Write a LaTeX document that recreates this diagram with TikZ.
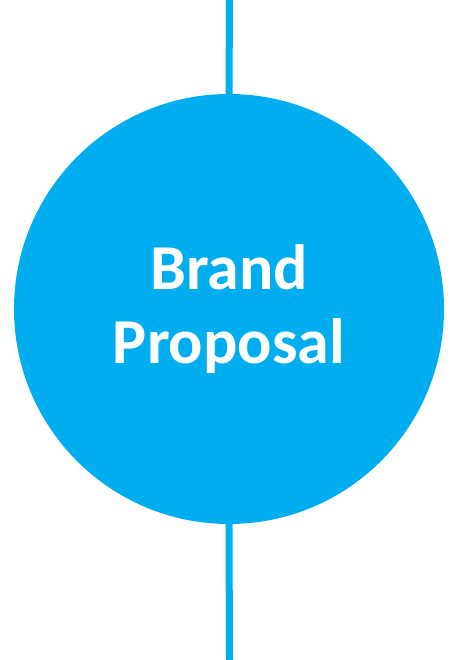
\documentclass[tikz,border=0pt]{standalone}
\usepackage{fontspec}
\setmainfont{Carlito}
\definecolor{brandblue}{HTML}{00AEEF}
\begin{document}
\begin{tikzpicture}[x=1pt,y=1pt,
  stem/.style={draw=brandblue,line width=7pt},
  bubble/.style={circle,fill=brandblue,minimum size=430pt,inner sep=0pt,
    text=white,font=\bfseries\fontsize{64}{74}\selectfont,align=center}]
\useasboundingbox (0,0) rectangle (458,660);
\coordinate (top) at (229.5,660);
\coordinate (bot) at (229.5,0);
\node[bubble] (c) at (229,351) {Brand\\Proposal};
\draw[stem] (top) -- (c.north);
\draw[stem] (c.south) -- (bot);
\end{tikzpicture}
\end{document}
